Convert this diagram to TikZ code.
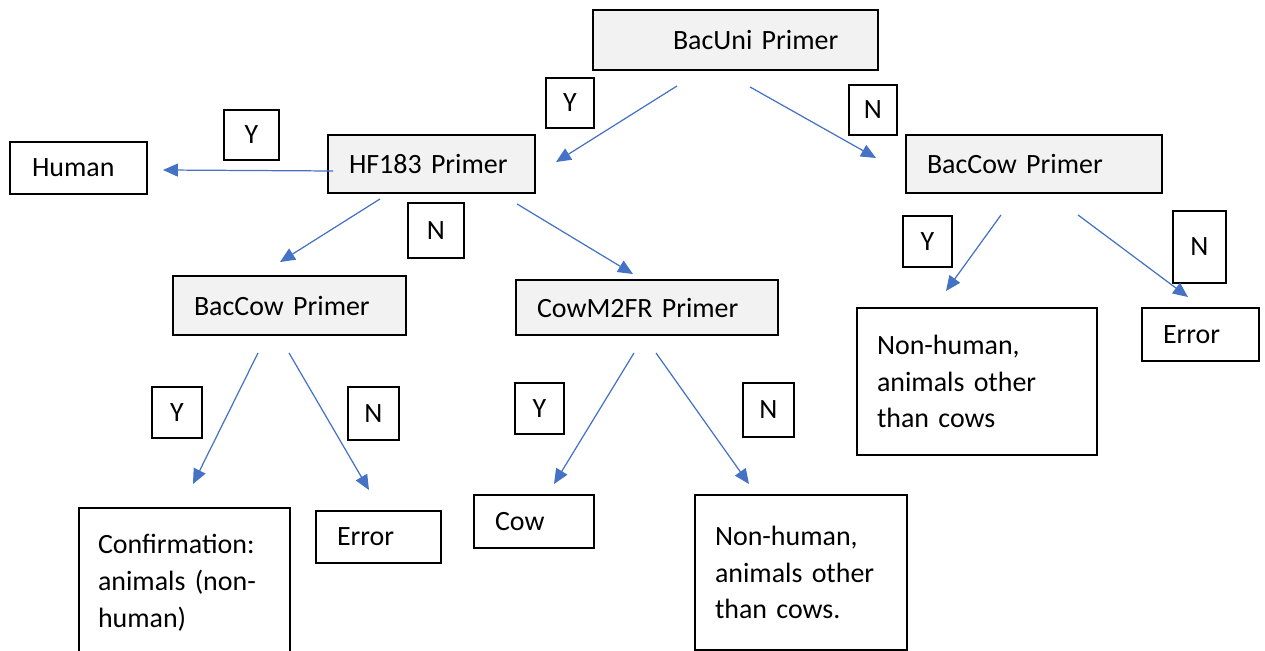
\documentclass[tikz,border=0pt]{standalone}
\usepackage{fontspec}
\setmainfont{Carlito}
\usetikzlibrary{arrows.meta,calc}
\newdimen\px
\px=0.02cm
\definecolor{boxgray}{HTML}{F2F2F2}
\definecolor{flowblue}{HTML}{4472C4}
\tikzset{
  box/.style={draw,line width=1.1pt,align=left,inner ysep=0pt,font=\fontsize{15.9}{21}\selectfont},
  primer/.style={box,fill=boxgray},
  yn/.style={draw,line width=1.1pt,inner sep=0pt,font=\fontsize{15.9}{21}\selectfont},
  flow/.style={draw=flowblue,line width=0.7pt,-{Triangle[length=0.3cm,width=0.26cm]}}
}

\begin{document}
\begin{tikzpicture}[x=0.02cm,y=-0.02cm]
  \useasboundingbox (0,0) rectangle (1265,651);
  \node[primer,minimum width=285\px,minimum height=60\px,inner xsep=80\px,text width=125\px] (bacuni) at (735.5,40) {\mbox{BacUni Primer}};
  \node[primer,minimum width=207\px,minimum height=58\px,inner xsep=21\px,text width=165\px] (hf) at (431.5,164) {HF183 Primer};
  \node[box,minimum width=137\px,minimum height=52\px,inner xsep=22\px,text width=93\px] (human) at (78.5,168) {Human};
  \node[primer,minimum width=256\px,minimum height=58\px,inner xsep=21\px,text width=214\px] (baccowR) at (1034,164) {BacCow Primer};
  \node[primer,minimum width=233\px,minimum height=59\px,inner xsep=21\px,text width=191\px] (baccowL) at (289.5,305.5) {BacCow Primer};
  \node[primer,minimum width=262\px,minimum height=55\px,inner xsep=21\px,text width=220\px] (cowm2) at (647,307.5) {CowM2FR Primer};
  \node[box,minimum width=240\px,minimum height=147\px,inner xsep=20\px,text width=200\px] (nonhR) at (977,381.5) {Non-human,\\animals other\\than cows};
  \node[box,minimum width=117\px,minimum height=53\px,inner xsep=21\px,text width=75\px] (errR) at (1200.5,334.5) {Error};
  \node[box,minimum width=211\px,minimum height=150\px,inner xsep=19\px,text width=173\px] (conf) at (184.5,583) {Confirmation:\\animals (non-\\human)};
  \node[box,minimum width=125\px,minimum height=52\px,inner xsep=21\px,text width=83\px] (errL) at (378.5,537) {Error};
  \node[box,minimum width=120\px,minimum height=53\px,inner xsep=21\px,text width=78\px] (cow) at (534,521.5) {Cow};
  \node[box,minimum width=212\px,minimum height=155\px,inner xsep=20\px,text width=172\px] (nonhM) at (801,572.5) {Non-human,\\animals other\\than cows.};

  \node[yn,minimum width=48\px,minimum height=50\px] (y1) at (570,103) {Y};
  \node[yn,minimum width=48\px,minimum height=50\px] (n1) at (873,110) {N};
  \node[yn,minimum width=55\px,minimum height=50\px] (y2) at (251.5,135) {Y};
  \node[yn,minimum width=56\px,minimum height=55\px] (n2) at (436,230.5) {N};
  \node[yn,minimum width=49\px,minimum height=51\px] (y3) at (927.5,241.5) {Y};
  \node[yn,minimum width=53\px,minimum height=72\px] (n3) at (1199.5,247) {N};
  \node[yn,minimum width=50\px,minimum height=51\px] (y4) at (177,412.5) {Y};
  \node[yn,minimum width=51\px,minimum height=53\px] (n4) at (373.5,413.5) {N};
  \node[yn,minimum width=49\px,minimum height=51\px] (y5) at (539.5,408.5) {Y};
  \node[yn,minimum width=51\px,minimum height=54\px] (n5) at (768.5,410) {N};

  \draw[flow] ($(bacuni.south)+(-58.5,15)$) -- ($(hf.north east)+(20,28)$);
  \draw[flow] ($(bacuni.south)+(14.5,16)$) -- ($(baccowR.west)+(-29,-6)$);
  \draw[flow] ($(hf.west)+(6,7)$) -- ($(human.east)+(15,2)$);
  \draw[flow] ($(hf.south)+(-51.5,5)$) -- ($(baccowL.north)+(-9.5,-13)$);
  \draw[flow] ($(hf.south)+(85.5,10)$) -- ($(cowm2.north)+(-14,-5)$);
  \draw[flow] ($(baccowR.south)+(-33,21)$) -- ($(nonhR.north)+(-31,-16)$);
  \draw[flow] ($(baccowR.south)+(44,21)$) -- ($(errR.north)+(-12.5,-10)$);
  \draw[flow] ($(baccowL.south)+(-31.5,17)$) -- ($(conf.north)+(8.5,-23)$);
  \draw[flow] ($(baccowL.south)+(-0.5,17)$) -- ($(errL.north)+(-9.5,-20)$);
  \draw[flow] ($(cowm2.south)+(-13,17)$) -- ($(cow.north)+(20,-10)$);
  \draw[flow] ($(cowm2.south)+(9,17)$) -- ($(nonhM.north)+(-52,-10)$);
\end{tikzpicture}
\end{document}
